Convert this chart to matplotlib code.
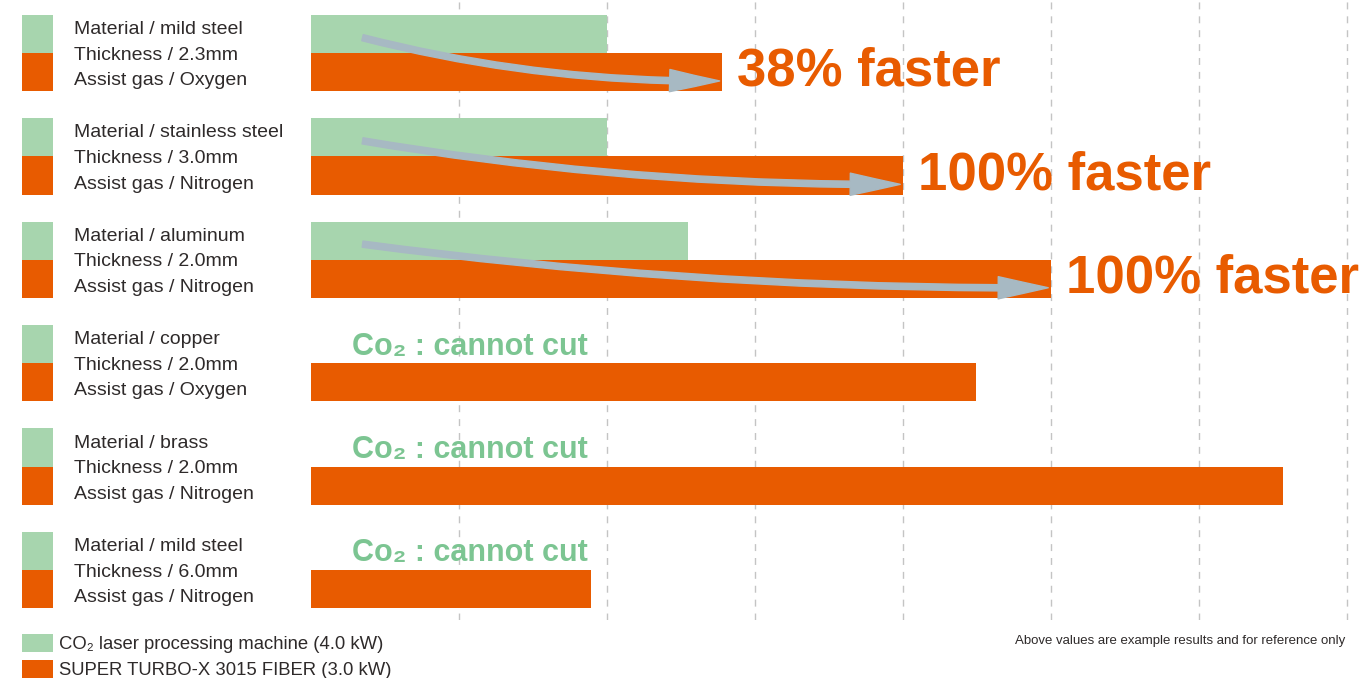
import numpy as np
import matplotlib
matplotlib.use("Agg")
import matplotlib.pyplot as plt
from matplotlib.patches import FancyArrowPatch
from matplotlib.transforms import blended_transform_factory

plt.rcParams["font.family"] = ["Liberation Sans", "DejaVu Sans"]

materials = ["mild steel", "stainless steel", "aluminum", "copper", "brass", "mild steel"]
thickness = ["2.3mm", "3.0mm", "2.0mm", "2.0mm", "2.0mm", "6.0mm"]
gases = ["Oxygen", "Nitrogen", "Nitrogen", "Oxygen", "Nitrogen", "Nitrogen"]
co2_speed = [2.0, 2.0, 2.55, 0, 0, 0]
fiber_speed = [2.78, 4.0, 5.0, 4.49, 6.57, 1.89]
gain_labels = ["38% faster", "100% faster", "100% faster", None, None, None]
series_names = ["CO₂ laser processing machine (4.0 kW)", "SUPER TURBO-X 3015 FIBER (3.0 kW)"]
note = "Above values are example results and for reference only"

GREEN = "#A7D5AE"
ORANGE = "#E85B00"
ARROW = "#A7B9C3"
TEXT = "#2E2A2A"

W, H = 1367, 678
fig = plt.figure(figsize=(W / 100, H / 100), dpi=100)
ax = fig.add_axes([311 / W, 58 / H, 1 - 311 / W, 620 / H])

rows = np.arange(len(materials))
bh = 0.37
co2_bars = ax.barh(rows - bh, co2_speed, height=bh, align="edge", color=GREEN, zorder=2)
fiber_bars = ax.barh(rows, fiber_speed, height=bh, align="edge", color=ORANGE, zorder=2)

# little colour key squares next to each row label
ax.barh(rows - bh, 0.209, left=-1.953, height=bh, align="edge", color=GREEN, clip_on=False)
ax.barh(rows, 0.209, left=-1.953, height=bh, align="edge", color=ORANGE, clip_on=False)

ax.set_xlim(0, (W - 311) / 148)
ax.set_ylim(-0.5126 + 620 / 103.4, -0.5126)
ax.set_xticks(range(1, 8))
ax.grid(axis="x", color="#C4C4C4", linestyle=(0, (5, 5)), linewidth=1)
ax.set_axisbelow(True)
ax.tick_params(length=0, labelbottom=False, labelleft=False)
for s in ax.spines.values():
    s.set_visible(False)

# row labels
tr = blended_transform_factory(fig.transFigure, ax.transData)
for i in rows:
    lines = ["Material / " + materials[i], "Thickness / " + thickness[i], "Assist gas / " + gases[i]]
    for k, line in enumerate(lines):
        ax.text(74 / W, i + 0.02 + (k - 1) * 0.247, line, transform=tr, fontsize=14,
                color=TEXT, va="center", ha="left")

# arrows and speed-up labels
for i in rows:
    if co2_speed[i] > 0:
        start = (0.33, i - 0.155)
        end = (fiber_speed[i], i + 0.27)
        p0 = ax.transData.transform(start)
        p1 = ax.transData.transform(end)
        # bend so the arrow flattens out as it reaches the bar end
        rad = 0.55 * abs(p1[1] - p0[1]) / (p1[0] - p0[0])
        arr = FancyArrowPatch(start, end, connectionstyle=f"arc3,rad={rad:.3f}",
                              arrowstyle="simple,head_length=3.6,head_width=1.6,tail_width=0.45",
                              mutation_scale=10, color=ARROW, zorder=4)
        ax.add_patch(arr)
        ax.text(fiber_speed[i] + 0.1, i + 0.18, gain_labels[i], fontsize=38,
                fontweight="bold", color=ORANGE, va="center", ha="left", zorder=5)
    else:
        ax.text(0.28, i - 0.16, "Co₂ : cannot cut", fontsize=22, fontweight="bold",
                color="#7CC592", va="center", ha="left", zorder=5)

fig.legend([co2_bars, fiber_bars], series_names, loc="lower left",
           bbox_to_anchor=(22 / W, -0.002), frameon=False, fontsize=13.3,
           handlelength=1.7, handleheight=1.15, handletextpad=0.3,
           labelspacing=0.35, borderpad=0, borderaxespad=0, labelcolor=TEXT)

fig.text(1345 / W, 1 - 641 / H, note, fontsize=9.5, color=TEXT, ha="right", va="center")

fig.savefig("out.png", dpi=100)
